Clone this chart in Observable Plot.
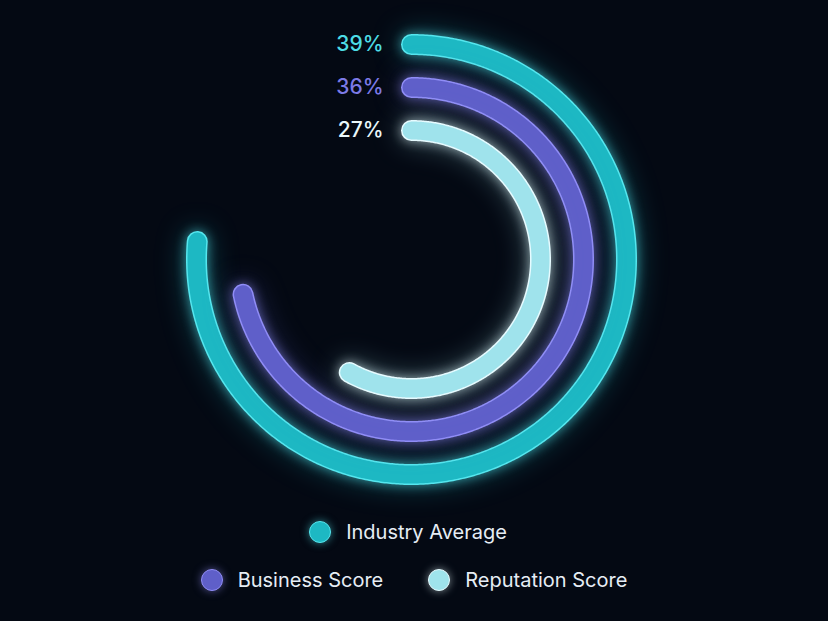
<!DOCTYPE html>
<html>
<head>
<meta charset="utf-8">
<script src="https://cdn.jsdelivr.net/npm/d3@7"></script>
<script src="https://cdn.jsdelivr.net/npm/@observablehq/plot@0.6"></script>
<style>
  html, body { margin: 0; padding: 0; background: #040913; }
  body { width: 828px; height: 621px; overflow: hidden; font-family: "Inter", "Noto Sans", sans-serif; }
  #chart svg { display: block; }
  .legend { width: 828px; }
  .row { display: flex; justify-content: center; align-items: center; height: 48px; gap: 45px; }
  .row.first { transform: translateX(-6px); }
  .item { display: flex; align-items: center; color: #e6edf5; font-size: 20px; }
  .dot { width: 22px; height: 22px; border-radius: 50%; margin-right: 15px; box-sizing: border-box; }
</style>
</head>
<body>
<div id="chart"></div>
<div class="legend" id="legend"></div>
<script>
// ---- data ----
const series = ["Industry Average", "Business Score", "Reputation Score"];
const values = [39, 36, 27];
const fills = ["#1db8c3", "#5f5fc9", "#9fe3ec"];
const edges = ["#55e6ee", "#908df6", "#e6fbff"];
const labelColors = ["#4ddce5", "#7c7ae6", "#eaf8fb"];
const legendRows = [[0], [1, 2]];

// ---- geometry ----
const W = 828, H = 508, cx = 411, cy = 259;
const outerR = 215, step = 43;
const radius = i => outerR - i * step;
const angle = d3.scaleLinear().domain([-11, 54.5]).range([0, 360]);

const arcs = series.map((s, i) => {
  const a = angle(values[i]);
  const n = Math.ceil(a * 2);
  return d3.range(n + 1).map(k => {
    const t = (a * k / n) * Math.PI / 180;
    return { series: s, x: radius(i) * Math.sin(t), y: radius(i) * Math.cos(t) };
  });
});

const marks = [];
series.forEach((s, i) => {
  marks.push(Plot.line(arcs[i], { x: "x", y: "y", stroke: edges[i], strokeWidth: 21, strokeLinecap: "round", strokeLinejoin: "round" }));
  marks.push(Plot.line(arcs[i], { x: "x", y: "y", stroke: fills[i], strokeWidth: 18, strokeLinecap: "round", strokeLinejoin: "round" }));
});
const labelData = series.map((s, i) => ({ i, text: values[i] + "%" }));
marks.push(Plot.text(labelData, {
  x: () => -28, y: d => radius(d.i), text: "text", textAnchor: "end",
  fill: d => labelColors[d.i], fontSize: 21, fontWeight: 500, fontFamily: "Inter"
}));

const chart = Plot.plot({
  width: W, height: H, margin: 0,
  x: { domain: [-cx, W - cx], axis: null },
  y: { domain: [-(H - cy), cy], axis: null },
  color: { type: "identity" },
  style: { background: "transparent", overflow: "visible" },
  marks
});
document.getElementById("chart").appendChild(chart);

// glow on the edge strokes
const lineGroups = chart.querySelectorAll('g[aria-label="line"]');
lineGroups.forEach((g, k) => {
  if (k % 2 === 0) {
    const i = k / 2;
    g.style.filter = `drop-shadow(0 0 6px ${edges[i]}99) drop-shadow(0 0 14px ${fills[i]}55)`;
  }
});

// legend
const legend = document.getElementById("legend");
legendRows.forEach((row, ri) => {
  const r = document.createElement("div");
  r.className = ri === 0 ? "row first" : "row";
  row.forEach(i => {
    const it = document.createElement("div");
    it.className = "item";
    const dot = document.createElement("span");
    dot.className = "dot";
    dot.style.background = fills[i];
    dot.style.border = `1.5px solid ${edges[i]}`;
    dot.style.boxShadow = `0 0 8px ${edges[i]}88`;
    const t = document.createElement("span");
    t.textContent = series[i];
    it.appendChild(dot); it.appendChild(t);
    r.appendChild(it);
  });
  legend.appendChild(r);
});
</script>
</body>
</html>
